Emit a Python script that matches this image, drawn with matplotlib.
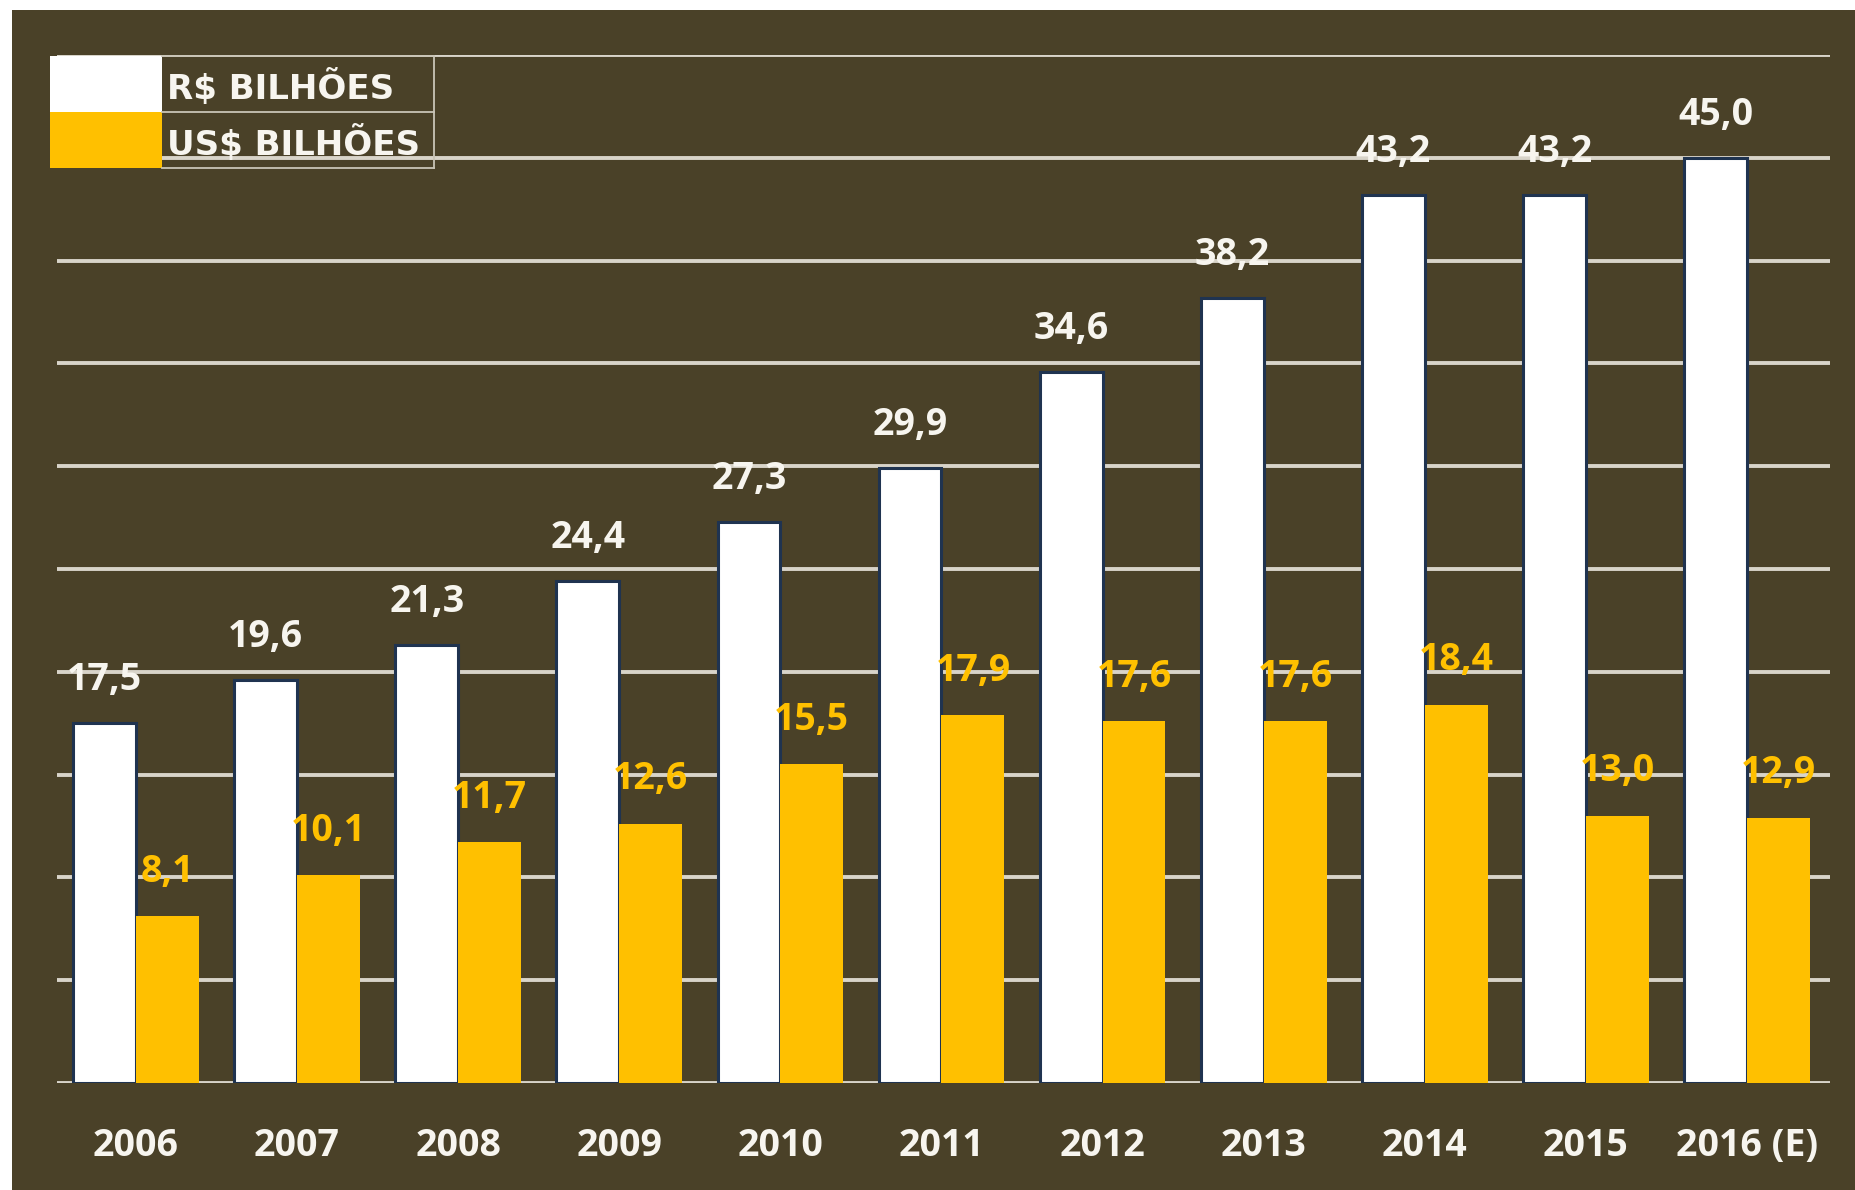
import matplotlib.pyplot as plt
import numpy as np
from matplotlib.patches import Rectangle
from matplotlib.lines import Line2D

# faturamento anual, em bilhões
anos = ['2006', '2007', '2008', '2009', '2010', '2011', '2012', '2013', '2014', '2015', '2016 (E)']
reais = [17.5, 19.6, 21.3, 24.4, 27.3, 29.9, 34.6, 38.2, 43.2, 43.2, 45.0]
dolares = [8.1, 10.1, 11.7, 12.6, 15.5, 17.9, 17.6, 17.6, 18.4, 13.0, 12.9]

fundo = '#4a4128'
amarelo = '#ffc000'
branco = '#f7f5ef'
grade = '#d8d4c9'

W, H = 1855, 1190
fig = plt.figure(figsize=(W / 100, H / 100), dpi=100, facecolor='white')

def fx(px):
    return px / W

def fy(py):
    return 1 - py / H

# painel escuro (fica uma faixa branca em cima e à esquerda)
fig.add_artist(Rectangle((fx(12), 0), 1 - fx(12), fy(10), transform=fig.transFigure,
                         facecolor=fundo, edgecolor='none', zorder=0))

ax = fig.add_axes([fx(57), fy(1083), fx(1830) - fx(57), fy(55) - fy(1083)])
ax.set_facecolor('none')

x = np.arange(len(anos))
w = 0.39
ax.bar(x - w / 2, reais, w, color='white', edgecolor='#1f3350', linewidth=2.2, zorder=3)
ax.bar(x + w / 2, dolares, w, color=amarelo, edgecolor='none', zorder=3)

for v in np.arange(0, 51, 5):
    ax.axhline(v, color=grade, lw=2.8, zorder=1)

fonte = 'Open Sans'
tam = 27
for xi, v in zip(x - w / 2, reais):
    ax.annotate(f'{v:.1f}'.replace('.', ','), (xi, v), xytext=(0, 31), textcoords='offset points',
                ha='center', va='center', color=branco, fontsize=tam, fontweight='bold',
                family=fonte, zorder=5)
for xi, v in zip(x + w / 2, dolares):
    ax.annotate(f'{v:.1f}'.replace('.', ','), (xi, v), xytext=(0, 32), textcoords='offset points',
                ha='center', va='center', color=amarelo, fontsize=tam, fontweight='bold',
                family=fonte, zorder=5)

ax.set_xlim(-0.49, 10.515)
ax.set_ylim(0, 50)
ax.set_xticks(x)
ax.set_xticklabels(anos, color=branco, fontsize=tam, fontweight='bold', family=fonte)
ax.tick_params(axis='x', length=0, pad=32)
ax.set_yticks([])
for s in ax.spines.values():
    s.set_visible(False)

# legenda em forma de tabela
fig.add_artist(Rectangle((fx(50), fy(112)), fx(162) - fx(50), fy(56) - fy(112),
                         transform=fig.transFigure, facecolor='white', edgecolor='none', zorder=6))
fig.add_artist(Rectangle((fx(50), fy(168)), fx(162) - fx(50), fy(112) - fy(168),
                         transform=fig.transFigure, facecolor=amarelo, edgecolor='none', zorder=6))
for yy in (56, 112, 168):
    fig.add_artist(Line2D([fx(162), fx(434)], [fy(yy), fy(yy)], transform=fig.transFigure,
                          color='#c9c4b6', lw=1.3, zorder=6))
fig.add_artist(Line2D([fx(434), fx(434)], [fy(56), fy(168)], transform=fig.transFigure,
                      color='#c9c4b6', lw=1.3, zorder=6))
fig.text(fx(167), fy(87), 'R$ BILHÕES', color=branco, fontsize=24.5, fontweight='bold',
         family='DejaVu Sans', va='center', ha='left', zorder=7)
fig.text(fx(167), fy(143), 'US$ BILHÕES', color=branco, fontsize=24.5, fontweight='bold',
         family='DejaVu Sans', va='center', ha='left', zorder=7)

fig.savefig('out.png', dpi=100, facecolor=fig.get_facecolor())
